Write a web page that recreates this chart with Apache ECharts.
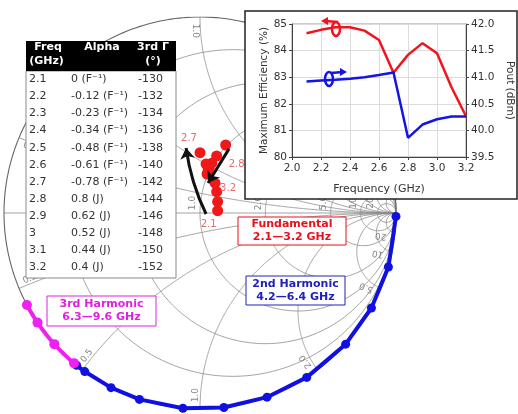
<!DOCTYPE html>
<html><head><meta charset="utf-8">
<script src="https://cdn.jsdelivr.net/npm/echarts@6/dist/echarts.min.js"></script>
<style>html,body{margin:0;padding:0;background:#fff}#c{width:518px;height:414px}</style>
</head><body><div id="c"></div>
<script>
// ---------------- data ----------------
const tableFreq = ['2.1','2.2','2.3','2.4','2.5','2.6','2.7','2.8','2.9','3','3.1','3.2'];
const alphaValue = ['0','-0.12','-0.23','-0.34','-0.48','-0.61','-0.78','0.8','0.62','0.52','0.44','0.4'];
const alphaMode = ['F⁻¹','F⁻¹','F⁻¹','F⁻¹','F⁻¹','F⁻¹','F⁻¹','J','J','J','J','J'];
const thirdGammaDeg = [-130,-132,-134,-136,-138,-140,-142,-144,-146,-148,-150,-152];
const thirdDotDeg = [-130,-138,-146,-152];
const secondGammaDeg = [-1,-16,-29,-42,-57,-70,-83,-95,-108,-117,-126,-129];
const fundFreq = ['2.1','2.2','2.3','2.4','2.5','2.6','2.7','2.8','2.9','3.0','3.1','3.2'];
const fundRe = [0.090,0.090,0.085,0.077,0.046,0.031,0.000,0.131,0.085,0.060,0.042,0.036];
const fundIm = [0.012,0.058,0.109,0.152,0.230,0.250,0.308,0.347,0.291,0.254,0.219,0.199];
const resistanceValues = [0.2,0.5,1,2,5,10,20];
const reactanceValues = [0.2,0.5,1,2,5,10,20];
const resistanceLabels = ['0.2','0.5','1.0','2.0','5.0','10','20'];
const effFreq = [2.1,2.2,2.3,2.4,2.5,2.6,2.7,2.8,2.9,3.0,3.1,3.2];
const efficiency = [84.65,84.78,84.88,84.88,84.75,84.4,83.17,83.84,84.28,83.9,82.62,81.53];
const pout = [40.92,40.94,40.95,40.97,41.0,41.04,41.09,39.86,40.11,40.21,40.26,40.26];

// ---------------- helpers ----------------
const FONT = 'DejaVu Sans';
function gamma(r, x) {
  const d = (r + 1) * (r + 1) + x * x;
  return [(r * r - 1 + x * x) / d, (2 * x) / d];
}
function polar(deg, m) { const a = deg * Math.PI / 180; return [m * Math.cos(a), m * Math.sin(a)]; }

const N = 300, EPS = 1e-3;
const gridCurves = [];
function rCircle(r) {
  const pts = [];
  for (let i = 0; i <= N; i++) {
    const t = -Math.PI / 2 + EPS + (Math.PI - 2 * EPS) * i / N;
    pts.push(gamma(r, Math.tan(t)));
  }
  return pts;
}
function xArc(x) {
  const pts = [];
  for (let i = 0; i <= N; i++) {
    const t = (Math.PI / 2 - EPS) * i / N;
    pts.push(gamma(Math.tan(t), x));
  }
  return pts;
}
resistanceValues.forEach(r => gridCurves.push({coords: rCircle(r)}));
reactanceValues.forEach(x => { gridCurves.push({coords: xArc(x)}); gridCurves.push({coords: xArc(-x)}); });
gridCurves.push({coords: [[-1, 0], [1, 0]]});
const outer = [{coords: rCircle(0)}];

// labels on smith chart
const smithLabels = [];
reactanceValues.forEach((x, k) => {
  [1, -1].forEach(s => {
    const th = s * (180 - 2 * Math.atan(x) * 180 / Math.PI);
    const p = polar(th + s * 1.5, 0.93);
    let rot = th + 180; if (rot > 180) rot -= 360;
    smithLabels.push({value: p, name: resistanceLabels[k], label: {rotate: rot}});
  });
});
resistanceValues.forEach((r, k) => {
  const g = (r - 1) / (r + 1);
  smithLabels.push({value: [g - 0.036, 0.051], name: resistanceLabels[k], label: {rotate: 90}});
});

const fundLabelOffset = {'2.1': [-9, 14], '2.7': [-11, -14], '2.8': [11, 19], '3.2': [21, 14]};
const fundData = fundFreq.map((f, i) => {
  const o = fundLabelOffset[f];
  return {value: [fundRe[i], fundIm[i]], name: f,
    label: o ? {show: true, offset: o} : {show: false}};
});

const secondPts = secondGammaDeg.map(d => polar(d, 1));
const thirdPts = thirdGammaDeg.map(d => polar(d, 1));
const thirdDots = thirdDotDeg.map(d => polar(d, 1));

const arrows = [
  {coords: [[0.031, -0.005], [-0.071, 0.332]], lineStyle: {curveness: 0.08}},
  {coords: [[0.148, 0.327], [0.041, 0.153]], lineStyle: {curveness: 0}}
];

// ---------------- graphic: table ----------------
const G = [];
const TX = 26, TW = 150, HY = 41, HH = 30, ROWY0 = 79.3, ROWDY = 17.09;
G.push({type: 'rect', z: 20, shape: {x: TX, y: HY + HH, width: TW, height: 207}, style: {fill: '#fff', stroke: '#8a8a8a', lineWidth: 1}});
G.push({type: 'rect', z: 21, shape: {x: TX, y: HY, width: TW, height: HH}, style: {fill: '#000'}});
const headStyle = {fill: '#fff', font: 'bold 11px "' + FONT + '"', textAlign: 'center', textVerticalAlign: 'middle'};
[['Freq', 48, 47], ['(GHz)', 46.5, 61.5], ['Alpha', 102, 47], ['3rd Γ', 153, 47], ['(°)', 153, 61.5]].forEach(h => {
  G.push({type: 'text', z: 22, style: Object.assign({text: h[0], x: h[1], y: h[2]}, headStyle)});
});
tableFreq.forEach((f, i) => {
  const y = ROWY0 + i * ROWDY;
  const st = {fill: '#333', font: '11px "' + FONT + '"', textVerticalAlign: 'middle', textAlign: 'left'};
  G.push({type: 'text', z: 22, style: Object.assign({text: f, x: 29, y: y}, st)});
  G.push({type: 'text', z: 22, style: Object.assign({text: alphaValue[i] + ' (' + alphaMode[i] + ')', x: 71, y: y}, st)});
  G.push({type: 'text', z: 22, style: Object.assign({text: String(thirdGammaDeg[i]), x: 138, y: y}, st)});
});

// legend boxes
function legendBox(x, y, w, h, color, lines) {
  G.push({type: 'rect', z: 24, shape: {x: x, y: y, width: w, height: h}, style: {fill: '#fff', stroke: color, lineWidth: 1}});
  G.push({type: 'text', z: 25, style: {text: lines.join('\n'), x: x + w / 2, y: y + h / 2, fill: color,
    font: 'bold 11px "' + FONT + '"', textAlign: 'center', textVerticalAlign: 'middle', lineHeight: 13}});
}
legendBox(238, 217, 108, 28, '#e8101a', ['Fundamental', '2.1—3.2 GHz']);
legendBox(246, 276, 99, 29, '#2020c0', ['2nd Harmonic', '4.2—6.4 GHz']);
legendBox(47, 296, 109, 30, '#e020e0', ['3rd Harmonic', '6.3—9.6 GHz']);

// inset background
G.push({type: 'rect', z: 20, shape: {x: 245, y: 11, width: 272, height: 188}, style: {fill: '#fff', stroke: '#222', lineWidth: 1.5}});
// inset axis markers
function marker(cx, cy, color, tipX, tipY, fromX, fromY, dir) {
  G.push({type: 'ellipse', z: 40, shape: {cx: cx, cy: cy, rx: 4, ry: 7}, style: {fill: 'none', stroke: color, lineWidth: 2.5}});
  G.push({type: 'polyline', z: 40, shape: {points: [[fromX, fromY], [tipX - dir * 4, tipY]]}, style: {stroke: color, lineWidth: 2.5, fill: 'none'}});
  G.push({type: 'polygon', z: 40, shape: {points: [[tipX, tipY], [tipX - dir * 7, tipY - 4], [tipX - dir * 7, tipY + 4]]}, style: {fill: color}});
}
marker(336, 29, '#f0141e', 321, 21, 338, 22, -1);
marker(329, 79, '#1414e6', 347, 72, 331, 73, 1);

// ---------------- chart ----------------
const chart = echarts.init(document.getElementById('c'), null, {renderer: 'canvas'});
chart.setOption({
  animation: false,
  backgroundColor: '#fff',
  grid: [
    {left: 4, top: 17, width: 392, height: 392, show: false},
    {left: 292, right: 52, top: 24, bottom: 257, show: true, borderColor: '#999', borderWidth: 1, z: 30}
  ],
  xAxis: [
    {gridIndex: 0, type: 'value', min: -1, max: 1, show: false},
    {gridIndex: 1, type: 'value', min: 2.0, max: 3.2, interval: 0.2, z: 30,
      name: 'Frequency (GHz)', nameLocation: 'middle', nameGap: 27,
      nameTextStyle: {fontFamily: FONT, fontSize: 11, color: '#333'},
      axisLine: {lineStyle: {color: '#444'}}, axisTick: {show: true, length: 3, lineStyle: {color: '#444'}},
      axisLabel: {fontFamily: FONT, fontSize: 10.5, color: '#333', margin: 6, formatter: v => v.toFixed(1)},
      splitLine: {show: true, lineStyle: {color: '#dcdcdc'}}}
  ],
  yAxis: [
    {gridIndex: 0, type: 'value', min: -1, max: 1, show: false},
    {gridIndex: 1, type: 'value', min: 80, max: 85, interval: 1, z: 30, position: 'left',
      name: 'Maximum Efficiency (%)', nameLocation: 'middle', nameGap: 21,
      nameTextStyle: {fontFamily: FONT, fontSize: 10.5, color: '#333'},
      axisLine: {show: true, lineStyle: {color: '#444'}}, axisTick: {show: true, length: 3, lineStyle: {color: '#444'}},
      axisLabel: {fontFamily: FONT, fontSize: 10.5, color: '#333', margin: 5},
      splitLine: {show: true, lineStyle: {color: '#dcdcdc'}}},
    {gridIndex: 1, type: 'value', min: 39.5, max: 42.0, interval: 0.5, z: 30, position: 'right',
      name: 'Pout (dBm)', nameLocation: 'middle', nameGap: 38, nameRotate: -90,
      nameTextStyle: {fontFamily: FONT, fontSize: 10.5, color: '#333'},
      axisLine: {show: true, lineStyle: {color: '#444'}}, axisTick: {show: true, length: 3, lineStyle: {color: '#444'}},
      axisLabel: {fontFamily: FONT, fontSize: 10.5, color: '#333', margin: 5, formatter: v => v.toFixed(1)},
      splitLine: {show: false}}
  ],
  graphic: G,
  series: [
    {type: 'lines', coordinateSystem: 'cartesian2d', xAxisIndex: 0, yAxisIndex: 0, polyline: true, z: 1, silent: true,
      lineStyle: {color: '#8c8c8c', width: 0.8, opacity: 1}, data: gridCurves},
    {type: 'lines', coordinateSystem: 'cartesian2d', xAxisIndex: 0, yAxisIndex: 0, polyline: true, z: 1, silent: true,
      lineStyle: {color: '#666', width: 1.1, opacity: 1}, data: outer},
    {type: 'scatter', xAxisIndex: 0, yAxisIndex: 0, z: 2, symbolSize: 0, silent: true, data: smithLabels,
      label: {show: true, position: 'inside', formatter: p => p.name, fontFamily: FONT, fontSize: 9, color: '#666'}},
    {type: 'line', xAxisIndex: 0, yAxisIndex: 0, z: 3, data: secondPts, symbol: 'circle', symbolSize: 9,
      lineStyle: {color: '#1010e0', width: 4}, itemStyle: {color: '#1010e0', opacity: 1}},
    {type: 'line', xAxisIndex: 0, yAxisIndex: 0, z: 4, data: thirdPts, symbol: 'none',
      lineStyle: {color: '#f020f0', width: 4}},
    {type: 'scatter', xAxisIndex: 0, yAxisIndex: 0, z: 4, data: thirdDots, symbolSize: 10, itemStyle: {color: '#f020f0', opacity: 1}},
    {type: 'scatter', xAxisIndex: 0, yAxisIndex: 0, z: 5, data: fundData, symbolSize: 11,
      itemStyle: {color: '#f01818', opacity: 1},
      label: {position: 'inside', formatter: p => p.name, fontFamily: FONT, fontSize: 10, color: '#e86a6a'}},
    {type: 'lines', coordinateSystem: 'cartesian2d', xAxisIndex: 0, yAxisIndex: 0, z: 6,
      symbol: ['none', 'arrow'], symbolSize: 11, lineStyle: {color: '#111', width: 3, opacity: 1}, data: arrows},
    {type: 'line', xAxisIndex: 1, yAxisIndex: 1, z: 31, data: effFreq.map((f, i) => [f, efficiency[i]]),
      symbol: 'none', lineStyle: {color: '#f0141e', width: 2.5}},
    {type: 'line', xAxisIndex: 1, yAxisIndex: 2, z: 31, data: effFreq.map((f, i) => [f, pout[i]]),
      symbol: 'none', lineStyle: {color: '#1414e6', width: 2.5}}
  ]
});
</script></body></html>
